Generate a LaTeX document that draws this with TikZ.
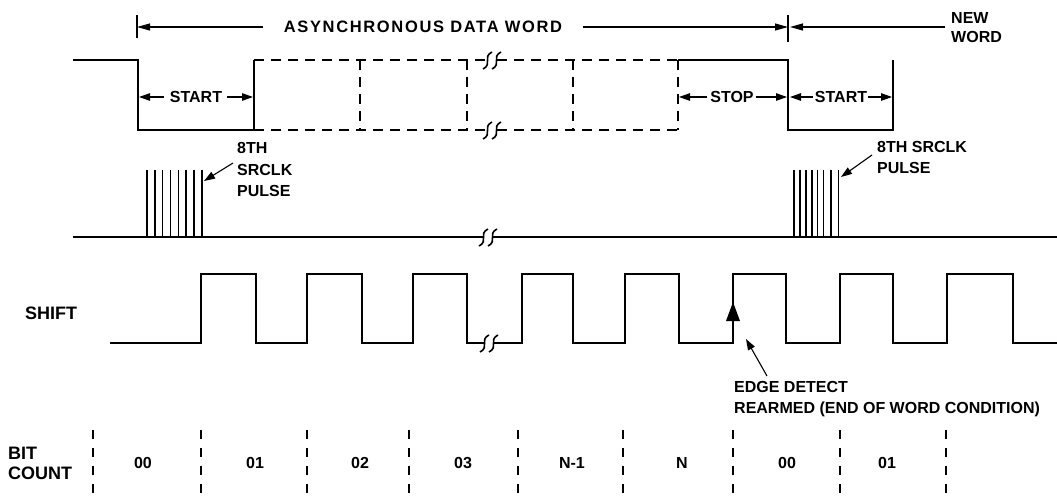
\documentclass[tikz,border=0pt]{standalone}
\usepackage{fontspec}
\setmainfont{Liberation Sans}
\usetikzlibrary{arrows.meta}
\begin{document}
\begin{tikzpicture}[x=1pt,y=-1pt,
  lbl/.style={font=\fontsize{16}{18}\selectfont\bfseries, inner sep=0pt, text height=11.5pt, text depth=0pt},
  big/.style={lbl, font=\fontsize{18}{20}\selectfont\bfseries, text height=13pt},
  wave/.style={line width=2pt, line join=miter},
  dwave/.style={wave, dash pattern=on 10pt off 7pt},
  dim/.style={line width=1.1pt},
  tip/.style={-{Triangle[length=13pt,width=7pt]}},
  stip/.style={-{Triangle[length=11pt,width=7.5pt]}},
  bitline/.style={line width=1.6pt, dash pattern=on 9pt off 9pt},
  pulse/.style={line width=1.3pt},
  brk/.pic={\draw[line width=1.6pt] (-10,9) .. controls (0,4) and (-11,-3) .. (-1,-8);
            \draw[line width=1.6pt] (-1,9) .. controls (9,4) and (-2,-3) .. (8,-8);}
]
\useasboundingbox (0,0) rectangle (1057,498);

% ---- top dimension line ----
\coordinate (b1) at (137,27);
\coordinate (b2) at (788,27);
\draw[dim] (137,15) -- (137,38);
\draw[dim] (788,15) -- (788,42);
\node[lbl, font=\fontsize{16.5}{18}\selectfont\bfseries\addfontfeature{LetterSpace=10}] (title) at (423,27) {ASYNCHRONOUS DATA WORD};
\draw[dim,tip] ([xshift=-21pt]title.west) -- (b1);
\draw[dim,tip] ([xshift=21pt]title.east) -- (b2);
\node[lbl, anchor=west] (new) at (951,18) {NEW};
\node[lbl, anchor=west] (word) at (951,37) {WORD};
\coordinate (nwl) at (945,27);
\draw[dim,tip] (nwl) -- ([xshift=2pt]b2);

% ---- serial data waveform ----
\draw[wave] (73,60) -- (138,60) -- (138,130) -- (254,130) -- (254,60);
\draw[dwave] (254,60) -- (487,60);
\draw[dwave] (497,60) -- (678,60);
\draw[dwave] (254,130) -- (487,130);
\draw[dwave] (497,130) -- (678,130);
\foreach \xx in {360,467,573,678} \draw[dwave] (\xx,60) -- (\xx,130);
\pic at (493,60) {brk};
\pic at (493,130) {brk};
\draw[wave] (678,60) -- (788,60) -- (788,130) -- (893,130) -- (893,60);

\node[lbl] (st1) at (196,97) {START};
\draw[dim,stip] ([xshift=-6pt]st1.west) -- (139,97);
\draw[dim,stip] ([xshift=5pt]st1.east) -- (253,97);
\node[lbl] (stop) at (732,97) {STOP};
\draw[dim,stip] ([xshift=-3pt]stop.west) -- (679,97);
\draw[dim,stip] ([xshift=2pt]stop.east) -- (787,97);
\node[lbl] (st2) at (841,97) {START};
\draw[dim,stip] ([xshift=-2pt]st2.west) -- (790,97);
\draw[dim,stip] ([xshift=1pt]st2.east) -- (892,97);

% ---- SRCLK ----
\draw[wave] (73,237) -- (483,237);
\draw[wave] (493,237) -- (1057,237);
\pic at (489,237) {brk};
\foreach \xx in {147,155,162.5,170.5,178.5,186,194,202} \draw[pulse] (\xx,170) -- (\xx,237);
\foreach \xx in {794,800,806,812,817.5,823.5,831,838.5} \draw[pulse] (\xx,170) -- (\xx,237);

\node[lbl, anchor=west] (p1a) at (237,148) {8TH};
\node[lbl, anchor=west] (p1b) at (237,170) {SRCLK};
\node[lbl, anchor=west] (p1c) at (237,191) {PULSE};
\coordinate (p1t) at (204,181);
\draw[dim,stip] ([xshift=-4pt,yshift=7pt]p1b.west) -- (p1t);
\node[lbl, anchor=west] (p2a) at (877,147) {8TH SRCLK};
\node[lbl, anchor=west] (p2b) at (877,168) {PULSE};
\coordinate (p2t) at (841,177);
\draw[dim,stip] ([xshift=-5pt,yshift=-8pt]p2a.west) -- (p2t);

% ---- SHIFT ----
\node[big] (shift) at (51,313) {SHIFT};
\draw[wave] (110,343) -- (201,343) -- (201,274) -- (256,274) -- (256,343) -- (307,343) -- (307,274) -- (362,274) -- (362,343) -- (413,343) -- (413,274) -- (467,274) -- (467,343) -- (484,343);
\draw[wave] (494,343) -- (522,343) -- (522,274) -- (573,274) -- (573,343) -- (625,343) -- (625,274) -- (679,274) -- (679,343) -- (733,343) -- (733,274) -- (786,274) -- (786,343) -- (840,343) -- (840,274) -- (893,274) -- (893,343) -- (947,343) -- (947,274) -- (1013,274) -- (1013,343) -- (1057,343);
\pic at (490,343) {brk};
\fill (726,321) -- (733,302) -- (740,321) -- cycle;

\node[lbl, anchor=west] (edge) at (734,387) {EDGE DETECT};
\node[lbl, anchor=west] (rearm) at (734,408) {REARMED (END OF WORD CONDITION)};
\coordinate (et) at (746,339);
\draw[dim,stip] ([xshift=33pt,yshift=11pt]edge.west) -- (et);

% ---- BIT COUNT ----
\node[big, anchor=west] (bit) at (8,453) {BIT};
\node[big, anchor=west] (count) at (8,473) {COUNT};
\foreach \xx in {93,201,307,409,518,623,733,840,946} \draw[bitline] (\xx,430) -- (\xx,498);
\foreach \xx/\t in {143/00,255/01,360/02,463/03,572/N-1,682/N,787/00,887/01}
  \node[lbl] (n\xx) at (\xx,463) {\t};
\end{tikzpicture}
\end{document}
